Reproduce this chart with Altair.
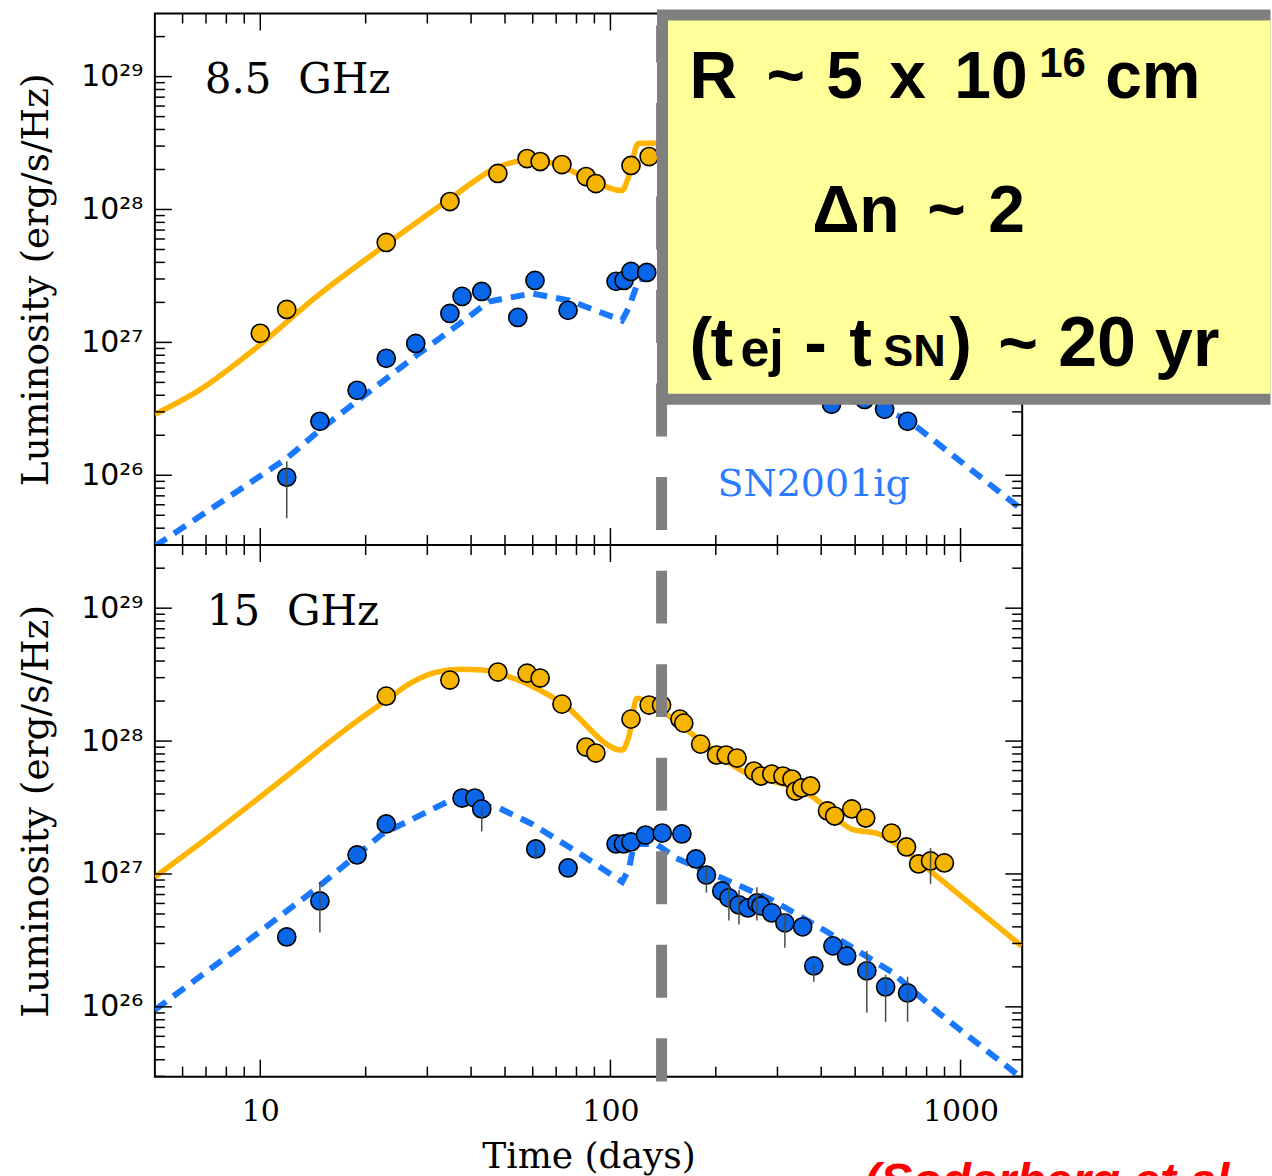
import altair as alt
import pandas as pd

# ---------------- data (log10 luminosity in erg/s/Hz, time in days) ----------------
# 8.5 GHz panel
t85_orange = [10, 11.9, 22.9, 34.8, 47.7, 57.8, 63.0, 72.7, 85.2, 90.9, 114.5, 129]
l85_orange = [27.068, 27.248, 27.752, 28.06, 28.271, 28.383, 28.361, 28.338, 28.248, 28.195, 28.331, 28.398]
t85_blue = [11.9, 14.8, 18.9, 22.9, 27.8, 34.8, 37.7, 42.9, 54.4, 60.9, 75.7, 103.8, 109.4, 114.5, 127,
            428, 532, 607, 706]
l85_blue = [25.985, 26.406, 26.639, 26.88, 26.992, 27.218, 27.346, 27.383, 27.188, 27.466, 27.241, 27.459,
            27.466, 27.534, 27.526, 26.534, 26.571, 26.496, 26.406]
e85_t = [11.9]
e85_lo = [25.677]
e85_hi = [26.105]

m85_orange_t = [5, 6.68, 9.93, 14.5, 22.9, 34.6, 48.1, 57.4, 66.9, 82.9, 107.9, 113, 120, 140, 200, 400, 800, 1500]
m85_orange_l = [26.459, 26.639, 26.977, 27.346, 27.737, 28.075, 28.323, 28.368, 28.353, 28.256, 28.143, 28.256,
                28.496, 28.50, 28.25, 27.85, 27.50, 27.10]
m85_blue_t = [5, 11.9, 15.0, 19.5, 27.9, 36.2, 45.0, 59.7, 76.2, 107.9, 113, 120.5, 140, 200, 300, 430, 600, 700,
              759, 1493]
m85_blue_l = [25.466, 26.128, 26.353, 26.586, 26.902, 27.120, 27.308, 27.368, 27.316, 27.165, 27.263, 27.474,
              27.50, 27.22, 26.93, 26.60, 26.50, 26.42, 26.353, 25.744]

# 15 GHz panel
t15_orange = [22.9, 34.8, 47.7, 57.8, 63.0, 72.7, 85.2, 90.9, 114.5, 129, 140, 158, 162, 181, 201, 214, 230,
              257, 269, 289, 311, 330, 338, 352, 373, 417, 437, 489, 536, 635, 701, 759, 821, 899]
l15_orange = [28.338, 28.459, 28.519, 28.511, 28.474, 28.278, 27.955, 27.910, 28.165, 28.271, 28.271, 28.165,
              28.135, 27.977, 27.895, 27.895, 27.872, 27.774, 27.737, 27.752, 27.737, 27.714, 27.624, 27.647,
              27.662, 27.474, 27.436, 27.489, 27.421, 27.308, 27.203, 27.075, 27.098, 27.083]
t15_blue = [11.9, 14.8, 18.9, 22.9, 37.7, 41.0, 42.9, 61.2, 75.7, 103.8, 109, 114.5, 126, 140.6, 160, 175.5,
            188, 208, 218, 233, 247, 262, 269, 289, 315, 354, 381, 432, 473, 540, 611, 706]
l15_blue = [26.526, 26.797, 27.143, 27.376, 27.571, 27.571, 27.489, 27.188, 27.045, 27.226, 27.226, 27.241,
            27.293, 27.308, 27.301, 27.113, 26.992, 26.872, 26.82, 26.767, 26.744, 26.782, 26.759, 26.707,
            26.632, 26.602, 26.308, 26.459, 26.383, 26.271, 26.150, 26.105]
e15_t = [14.8, 42.9, 61.2, 188, 218, 233, 262, 315, 381, 540, 611, 706, 821]
e15_lo = [26.56, 27.32, 27.12, 26.86, 26.65, 26.62, 26.65, 26.444, 26.188, 25.955, 25.887, 25.887, 26.925]
e15_hi = [26.94, 27.51, 27.25, 27.05, 26.91, 26.88, 26.90, 26.707, 26.316, 26.421, 26.241, 26.226, 27.195]

m15_orange_t = [5, 6.7, 11.6, 17.9, 22.9, 27.0, 31.5, 37.0, 43.0, 53.7, 72.7, 107.9, 113, 119, 135, 171, 233,
                376, 489, 584, 697, 826, 1493]
m15_orange_l = [26.977, 27.226, 27.714, 28.105, 28.308, 28.44, 28.515, 28.541, 28.534, 28.466, 28.286, 27.932,
                28.038, 28.323, 28.256, 28.053, 27.789, 27.586, 27.338, 27.301, 27.173, 27.015, 26.459]
m15_blue_t = [5, 8.3, 14.4, 22.3, 34.6, 48.1, 59.7, 82.9, 108, 113, 116.7, 135, 154, 289, 412, 635, 865, 1493]
m15_blue_l = [25.977, 26.406, 26.887, 27.301, 27.549, 27.496, 27.376, 27.143, 26.94, 27.038, 27.226, 27.226,
              27.12, 26.805, 26.571, 26.263, 25.955, 25.466]

t_transition = [140]

x_major = [10, 100, 1000]
x_minor = [6, 7, 8, 9, 20, 30, 40, 50, 60, 70, 80, 90, 200, 300, 400, 500, 600, 700, 800, 900]
y_major = [1e26, 1e27, 1e28, 1e29]
y_minor = [k * 10.0 ** e for e in range(25, 30) for k in range(2, 10)
           if 10 ** 25.475 < k * 10.0 ** e < 10 ** 29.475]

# ---------------- styling ----------------
W, H = 868, 532
ORANGE_LINE = "#FFB400"
ORANGE_PT = "#F5B400"
BLUE_LINE = "#1A78FF"
BLUE_PT = "#0A66E8"
GRAY = "#808080"
YELLOW = "#FFFF99"
SERIF = "DejaVu Serif"
SANS_B = "Liberation Sans"

xs = alt.Scale(type="log", domain=[5, 1500])
ys = alt.Scale(type="log", domain=[10 ** 25.475, 10 ** 29.475])

sup = {26: "\u00b2\u2076", 27: "\u00b2\u2077", 28: "\u00b2\u2078", 29: "\u00b2\u2079"}
lab_expr = ("'10' + (round(log(datum.value)/LN10) == 29 ? '%s' : round(log(datum.value)/LN10) == 28 ? '%s' : "
            "round(log(datum.value)/LN10) == 27 ? '%s' : '%s')") % (sup[29], sup[28], sup[27], sup[26])

yax = alt.Axis(values=y_major, labelExpr=lab_expr, ticks=False, domain=False, grid=False,
               labelFont="DejaVu Sans", labelFontSize=30, labelColor="black", labelPadding=12,
               title="Luminosity (erg/s/Hz)", titleFont=SERIF, titleFontSize=37.5, titleFontWeight="normal",
               titleColor="black", titlePadding=25)
xax_bottom = alt.Axis(values=x_major, format="d", ticks=False, domain=False, grid=False,
                      labelFont=SERIF, labelFontSize=30, labelColor="black", labelPadding=20,
                      title="Time (days)", titleFont=SERIF, titleFontSize=36, titleFontWeight="normal",
                      titleColor="black", titlePadding=13)

dummy = pd.DataFrame({"a": [0]})


def frame(t, l):
    return pd.DataFrame({"t": t, "L": [10 ** v for v in l]})


def errframe(t, lo, hi):
    return pd.DataFrame({"t": t, "lo": [10 ** v for v in lo], "hi": [10 ** v for v in hi]})


def ann(text, x, y, size, font, color="black", weight="normal", style="normal", align="left",
        baseline="alphabetic"):
    return alt.Chart(dummy).mark_text(text=text, font=font, fontSize=size, fontWeight=weight, fontStyle=style,
                                      color=color, align=align, baseline=baseline).encode(
        x=alt.value(x), y=alt.value(y))


def block(x0, x1, y0, y1, color):
    return alt.Chart(dummy).mark_rect(fill=color, stroke=None).encode(
        x=alt.value(x0), x2=alt.value(x1), y=alt.value(y0), y2=alt.value(y1))


def panel(xax, pts_o, pts_b, mod_o, mod_b, err, dash_y0, dash_y1, dash_offset, extras_below, extras_top):
    X = lambda: alt.X("t:Q", scale=xs, axis=xax)
    Y = lambda: alt.Y("L:Q", scale=ys, axis=yax)
    layers = []
    layers.append(alt.Chart(mod_o).mark_line(color=ORANGE_LINE, strokeWidth=5.5, clip=True,
                                             interpolate="monotone").encode(x=X(), y=Y(), order="t:Q"))
    layers.append(alt.Chart(mod_b).mark_line(color=BLUE_LINE, strokeWidth=6, strokeDash=[14, 9], clip=True).encode(
        x=X(), y=Y(), order="t:Q"))
    layers.append(alt.Chart(pts_o).mark_circle(size=330, fill=ORANGE_PT, stroke="black", strokeWidth=1.6,
                                               opacity=1).encode(x=X(), y=Y()))
    layers.append(alt.Chart(pts_b).mark_circle(size=330, fill=BLUE_PT, stroke="black", strokeWidth=1.6,
                                               opacity=1).encode(x=X(), y=Y()))
    layers.append(alt.Chart(err).mark_rule(color="#4a4a4a", strokeWidth=1.5).encode(
        x=X(), y=alt.Y("lo:Q", scale=ys, axis=yax), y2="hi:Q"))
    # ticks (inside the frame)
    xmaj = pd.DataFrame({"t": x_major})
    xmin = pd.DataFrame({"t": x_minor})
    ymaj = pd.DataFrame({"L": y_major})
    ymin = pd.DataFrame({"L": y_minor})
    for d, ln in ((xmaj, 17), (xmin, 10)):
        layers.append(alt.Chart(d).mark_rule(color="black", strokeWidth=1.5).encode(
            x=X(), y=alt.value(H), y2=alt.value(H - ln)))
        layers.append(alt.Chart(d).mark_rule(color="black", strokeWidth=1.5).encode(
            x=X(), y=alt.value(0), y2=alt.value(ln)))
    for d, ln in ((ymaj, 17), (ymin, 10)):
        layers.append(alt.Chart(d).mark_rule(color="black", strokeWidth=1.5).encode(
            y=Y(), x=alt.value(0), x2=alt.value(ln)))
        layers.append(alt.Chart(d).mark_rule(color="black", strokeWidth=1.5).encode(
            y=Y(), x=alt.value(W), x2=alt.value(W - ln)))
    layers += extras_below
    # transition time marker
    layers.append(alt.Chart(pd.DataFrame({"t": t_transition})).mark_rule(
        color=GRAY, strokeWidth=11, strokeDash=[53, 40.6], strokeDashOffset=dash_offset, strokeCap="butt").encode(
        x=X(), y=alt.value(dash_y0), y2=alt.value(dash_y1)))
    layers += extras_top
    return alt.layer(*layers).properties(width=W, height=H)


# ---- top panel annotations ----
top_below = [
    ann("8.5\u00a0 GHz", 50, 80, 42, SERIF),
    ann("SN2001ig", 563, 483, 38, SERIF, color="#2B7BFF"),
]
OX, OY = 155, 12
BX0, BX1, BY0, BY1 = 502.5, 1116.5, -4, 391.5   # outer edges of the framed box (panel pixels)
BW = 11
box = [
    block(BX0, BX1, BY0, BY1, GRAY),
    block(BX0 + BW, BX1, BY0 + BW, BY1 - BW, YELLOW),
]
tokens = [
    ("R", 690, 97, 66), ("~", 767, 97, 66), ("5", 827, 97, 66), ("x", 890, 97, 66), ("10", 955, 97, 66),
    ("16", 1040, 76, 42), ("cm", 1106, 97, 66),
    ("\u0394", 813, 231, 66), ("n", 860, 231, 66), ("~", 928, 231, 66), ("2", 989, 231, 66),
    ("(", 690, 365, 68), ("t", 711, 365, 68), ("ej", 741, 365, 52), ("-", 805, 365, 68), ("t", 850, 365, 68),
    ("SN", 884, 365, 45), (")", 950, 365, 68), ("~", 999, 365, 68), ("20", 1059, 365, 70), ("yr", 1156, 365, 68),
]
box_text = [ann(s, x - OX, y - OY, sz, SANS_B, weight="bold") for (s, x, y, sz) in tokens]

top = panel(None,
            frame(t85_orange, l85_orange), frame(t85_blue, l85_blue),
            frame(m85_orange_t, m85_orange_l), frame(m85_blue_t, m85_blue_l),
            errframe(e85_t, e85_lo, e85_hi),
            12, H, 16, top_below, box + box_text)

bottom_below = [ann("15\u00a0 GHz", 52, 80, 42, SERIF)]
bottom_top = [ann("(Soderberg et al.", 710, 652, 48, SANS_B, color="#FF0000", weight="bold", style="italic")]
bottom = panel(xax_bottom,
               frame(t15_orange, l15_orange), frame(t15_blue, l15_blue),
               frame(m15_orange_t, m15_orange_l), frame(m15_blue_t, m15_blue_l),
               errframe(e15_t, e15_lo, e15_hi),
               0, H + 5, 68, bottom_below, bottom_top)

chart = alt.vconcat(top, bottom, spacing=0, bounds="flush").configure_view(
    stroke="black", strokeWidth=2
).properties(
    padding={"left": 16, "top": 8, "right": 0, "bottom": 0},
    background="white",
)

chart.save("out.html", embed_options={"renderer": "svg", "actions": False})
